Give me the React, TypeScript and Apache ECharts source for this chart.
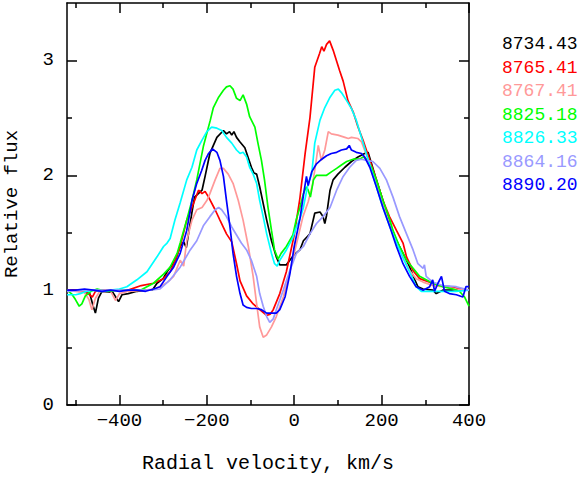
import { useEffect, useRef } from "react";
import * as echarts from "echarts";

const velocityTicks = [-400, -200, 0, 200, 400];
const velocityMinorTicks = [-500, -300, -100, 100, 300];
const fluxTicks = [0, 1, 2, 3];
const fluxMinorTicks = [0.5, 1.5, 2.5];

const seriesNames = ["8734.43", "8765.41", "8767.41", "8825.18", "8826.33", "8864.16", "8890.20"];
const seriesColors = ["#000000", "#ff0000", "#ff9999", "#00ff00", "#00ffff", "#9999ff", "#0000ff"];

const flux8734 = [[-520,1.0],[-490,0.99],[-468,0.97],[-460,0.86],[-455,0.80],[-448,0.93],[-440,0.99],[-415,0.98],[-402,0.90],[-394,0.96],[-380,0.97],[-360,0.99],[-340,1.0],[-325,1.0],[-314,1.06],[-300,1.10],[-291,1.16],[-272,1.26],[-261,1.38],[-253,1.42],[-247,1.37],[-242,1.49],[-234,1.68],[-228,1.81],[-211,1.87],[-204,1.99],[-193,2.19],[-177,2.33],[-162,2.39],[-155,2.36],[-148,2.38],[-143,2.35],[-138,2.38],[-132,2.33],[-124,2.29],[-113,2.24],[-98,2.07],[-92,2.02],[-86,2.01],[-79,1.90],[-63,1.61],[-52,1.43],[-41,1.29],[-33,1.22],[-18,1.22],[-10,1.26],[0,1.31],[13,1.35],[21,1.43],[36,1.49],[47,1.67],[59,1.68],[66,1.64],[70,1.58],[74,1.65],[82,1.87],[89,1.96],[100,2.01],[116,2.07],[131,2.12],[146,2.16],[161,2.19],[169,2.20],[177,2.10],[188,1.96],[203,1.78],[218,1.59],[234,1.43],[249,1.32],[264,1.20],[276,1.09],[283,1.03],[295,1.01],[317,1.0],[325,0.97],[340,1.0],[360,1.0],[380,1.01],[400,1.0]];

const flux8765 = [[-520,1.0],[-500,1.0],[-480,0.99],[-468,0.96],[-462,0.94],[-455,0.99],[-440,1.0],[-400,1.0],[-380,1.0],[-350,1.04],[-322,1.06],[-299,1.10],[-284,1.16],[-272,1.26],[-261,1.38],[-246,1.61],[-234,1.72],[-219,1.87],[-211,1.84],[-204,1.86],[-196,1.81],[-181,1.70],[-170,1.61],[-155,1.49],[-143,1.42],[-132,1.23],[-124,1.08],[-109,0.95],[-94,0.88],[-79,0.83],[-63,0.78],[-55,0.79],[-48,0.83],[-33,0.97],[-18,1.16],[0,1.48],[13,1.80],[25,2.19],[36,2.50],[47,2.94],[58,3.06],[63,3.12],[68,3.08],[74,3.14],[81,3.17],[89,3.09],[104,2.91],[112,2.82],[123,2.65],[135,2.55],[146,2.42],[158,2.30],[173,2.13],[188,1.96],[203,1.78],[218,1.64],[234,1.52],[249,1.41],[257,1.29],[272,1.17],[287,1.10],[310,1.07],[332,1.04],[355,1.03],[378,1.01],[400,1.0]];

const flux8767 = [[-520,1.0],[-500,0.99],[-480,0.98],[-470,0.92],[-463,0.83],[-455,0.93],[-445,0.99],[-420,0.99],[-409,0.91],[-400,0.97],[-380,0.99],[-340,1.0],[-320,1.01],[-307,1.03],[-290,1.07],[-276,1.12],[-261,1.26],[-253,1.21],[-246,1.43],[-234,1.61],[-223,1.70],[-211,1.72],[-200,1.78],[-193,1.84],[-181,1.96],[-170,2.06],[-162,2.06],[-151,2.01],[-140,1.93],[-128,1.78],[-117,1.61],[-105,1.38],[-94,1.12],[-86,0.88],[-79,0.68],[-71,0.59],[-63,0.61],[-52,0.68],[-41,0.77],[-25,0.94],[-10,1.16],[5,1.40],[20,1.64],[32,1.77],[42,1.92],[50,2.12],[55,2.26],[62,2.13],[70,2.22],[78,2.38],[85,2.36],[100,2.35],[116,2.33],[124,2.32],[131,2.33],[146,2.32],[154,2.29],[161,2.22],[173,2.10],[188,1.93],[203,1.75],[218,1.58],[234,1.43],[249,1.29],[264,1.17],[279,1.10],[295,1.07],[317,1.04],[340,1.03],[371,1.01],[400,1.0]];

const flux8825 = [[-520,1.0],[-510,0.97],[-501,0.92],[-492,0.86],[-486,0.88],[-478,0.95],[-465,0.99],[-451,1.01],[-430,0.99],[-400,1.0],[-380,1.0],[-352,1.0],[-322,1.06],[-299,1.14],[-284,1.20],[-268,1.32],[-261,1.41],[-246,1.61],[-234,1.78],[-223,1.96],[-208,2.25],[-192,2.48],[-185,2.59],[-173,2.68],[-162,2.74],[-155,2.77],[-147,2.78],[-140,2.75],[-132,2.67],[-124,2.65],[-117,2.70],[-109,2.62],[-102,2.51],[-90,2.42],[-83,2.28],[-75,2.13],[-68,1.96],[-60,1.72],[-52,1.52],[-45,1.35],[-37,1.27],[-30,1.32],[-18,1.38],[-3,1.48],[5,1.62],[13,1.72],[21,1.84],[28,1.90],[32,1.87],[37,1.81],[44,1.96],[51,2.0],[63,2.0],[74,2.0],[85,2.03],[97,2.06],[108,2.09],[120,2.12],[135,2.14],[150,2.14],[158,2.16],[165,2.14],[177,2.07],[188,1.96],[203,1.78],[219,1.61],[226,1.52],[241,1.38],[257,1.26],[272,1.19],[287,1.12],[302,1.09],[317,1.06],[340,1.03],[363,1.01],[378,0.99],[390,0.94],[400,0.86]];

const flux8826 = [[-520,0.96],[-500,0.96],[-490,0.97],[-475,0.99],[-460,1.0],[-440,0.99],[-420,1.0],[-400,1.01],[-383,1.03],[-360,1.09],[-337,1.16],[-314,1.29],[-299,1.38],[-291,1.41],[-284,1.45],[-273,1.61],[-261,1.76],[-246,1.96],[-234,2.07],[-223,2.22],[-212,2.30],[-200,2.38],[-189,2.42],[-177,2.41],[-166,2.39],[-155,2.33],[-143,2.28],[-132,2.22],[-124,2.19],[-117,2.20],[-109,2.16],[-102,2.07],[-94,2.01],[-86,1.93],[-79,1.78],[-71,1.64],[-63,1.49],[-52,1.32],[-45,1.23],[-39,1.21],[-33,1.26],[-18,1.35],[-3,1.46],[5,1.55],[13,1.62],[21,1.72],[32,1.93],[40,2.01],[47,2.28],[59,2.48],[70,2.59],[82,2.68],[93,2.74],[101,2.75],[108,2.72],[120,2.65],[131,2.58],[142,2.48],[154,2.33],[165,2.19],[177,2.04],[188,1.90],[203,1.72],[219,1.55],[234,1.41],[249,1.28],[264,1.16],[279,1.03],[291,0.99],[310,0.99],[340,0.99],[371,0.99],[400,1.0]];

const flux8864 = [[-520,0.99],[-480,1.0],[-440,1.0],[-400,1.0],[-360,1.0],[-330,1.0],[-307,1.01],[-284,1.09],[-261,1.20],[-238,1.35],[-223,1.43],[-208,1.56],[-193,1.64],[-181,1.70],[-173,1.72],[-166,1.70],[-155,1.64],[-143,1.55],[-132,1.48],[-121,1.41],[-109,1.35],[-98,1.26],[-86,1.12],[-79,0.97],[-71,0.86],[-63,0.77],[-56,0.72],[-48,0.75],[-41,0.83],[-25,1.0],[-10,1.17],[5,1.32],[21,1.38],[36,1.49],[51,1.58],[66,1.64],[82,1.72],[97,1.87],[112,1.99],[127,2.07],[142,2.13],[154,2.14],[165,2.13],[180,2.12],[196,2.06],[211,1.96],[226,1.81],[241,1.64],[257,1.49],[272,1.35],[283,1.23],[295,1.19],[298,1.22],[302,1.12],[317,1.07],[340,1.04],[371,1.03],[400,1.0]];

const flux8890 = [[-520,1.0],[-500,1.0],[-480,1.01],[-460,1.0],[-440,0.99],[-420,1.0],[-400,0.99],[-380,1.0],[-360,1.0],[-340,0.99],[-322,1.01],[-307,1.03],[-291,1.12],[-276,1.20],[-261,1.32],[-246,1.52],[-234,1.78],[-223,1.93],[-212,2.04],[-204,2.13],[-196,2.19],[-187,2.23],[-177,2.20],[-170,2.13],[-162,1.99],[-155,1.78],[-147,1.55],[-140,1.32],[-132,1.12],[-124,0.97],[-117,0.87],[-109,0.85],[-98,0.84],[-86,0.84],[-75,0.83],[-63,0.80],[-52,0.80],[-41,0.80],[-33,0.83],[-21,0.94],[-10,1.14],[0,1.38],[13,1.62],[22,1.85],[28,1.99],[32,1.91],[40,2.03],[51,2.10],[63,2.14],[74,2.17],[85,2.19],[97,2.20],[108,2.22],[120,2.23],[126,2.26],[131,2.22],[142,2.20],[154,2.19],[161,2.16],[173,2.07],[188,1.90],[203,1.72],[219,1.55],[234,1.38],[249,1.23],[264,1.12],[279,1.03],[295,1.0],[310,1.03],[317,1.09],[321,0.99],[329,1.06],[337,1.12],[344,0.99],[355,0.97],[371,0.96],[386,0.94],[393,1.03],[400,1.03]];

const seriesData = [flux8734, flux8765, flux8767, flux8825, flux8826, flux8864, flux8890];

const FONT = '"Liberation Mono", "DejaVu Sans Mono", monospace';

function fmtVel(v: number) {
  return v < 0 ? "\u2212" + Math.abs(v) : String(v);
}

export default function App() {
  const ref = useRef<HTMLDivElement>(null);
  useEffect(() => {
    if (!ref.current) return;
    const chart = echarts.init(ref.current, undefined, { renderer: "svg" });
    const line = { color: "#000", width: 1.5 };
    const xBase = { type: "value", min: -520, max: 400, splitLine: { show: false } };
    const yBase = { type: "value", min: 0, max: 3.5, splitLine: { show: false } };
    const option: any = {
      animation: false,
      backgroundColor: "#ffffff",
      grid: { left: 67, right: 112, top: 3, bottom: 75, containLabel: false, outerBoundsMode: "none" },
      legend: {
        orient: "vertical",
        left: 497,
        top: 35,
        padding: 0,
        icon: "none",
        itemWidth: 0,
        itemHeight: 18,
        itemGap: 5.5,
        selectedMode: false,
        textStyle: { fontFamily: FONT, fontSize: 18 },
        data: seriesNames.map((n, i) => ({ name: n, textStyle: { color: seriesColors[i] } })),
      },
      xAxis: [
        {
          ...xBase,
          position: "bottom",
          name: "Radial velocity, km/s",
          nameLocation: "middle",
          nameGap: 48,
          nameTextStyle: { fontFamily: FONT, fontSize: 20, color: "#000" },
          axisLine: { show: true, onZero: false, lineStyle: line },
          axisTick: { show: true, inside: true, length: 10, lineStyle: line, customValues: velocityTicks },
          axisLabel: { show: true, margin: 6, fontFamily: FONT, fontSize: 19, color: "#000", customValues: velocityTicks, formatter: fmtVel },
        },
        {
          ...xBase,
          position: "bottom",
          axisLine: { show: false, onZero: false },
          axisTick: { show: true, inside: true, length: 5, lineStyle: line, customValues: velocityMinorTicks },
          axisLabel: { show: false },
        },
        {
          ...xBase,
          position: "top",
          axisLine: { show: true, onZero: false, lineStyle: line },
          axisTick: { show: true, inside: true, length: 10, lineStyle: line, customValues: velocityTicks },
          axisLabel: { show: false },
        },
        {
          ...xBase,
          position: "top",
          axisLine: { show: false, onZero: false },
          axisTick: { show: true, inside: true, length: 5, lineStyle: line, customValues: velocityMinorTicks },
          axisLabel: { show: false },
        },
      ],
      yAxis: [
        {
          ...yBase,
          position: "left",
          name: "Relative flux",
          nameLocation: "middle",
          nameGap: 46,
          nameTextStyle: { fontFamily: FONT, fontSize: 19, color: "#000" },
          axisLine: { show: true, onZero: false, lineStyle: line },
          axisTick: { show: true, inside: true, length: 10, lineStyle: line, customValues: fluxTicks },
          axisLabel: { show: true, margin: 13, fontFamily: FONT, fontSize: 19, color: "#000", customValues: fluxTicks },
        },
        {
          ...yBase,
          position: "left",
          axisLine: { show: false, onZero: false },
          axisTick: { show: true, inside: true, length: 5, lineStyle: line, customValues: fluxMinorTicks },
          axisLabel: { show: false },
        },
        {
          ...yBase,
          position: "right",
          axisLine: { show: true, onZero: false, lineStyle: line },
          axisTick: { show: true, inside: true, length: 10, lineStyle: line, customValues: fluxTicks },
          axisLabel: { show: false },
        },
        {
          ...yBase,
          position: "right",
          axisLine: { show: false, onZero: false },
          axisTick: { show: true, inside: true, length: 5, lineStyle: line, customValues: fluxMinorTicks },
          axisLabel: { show: false },
        },
      ],
      series: seriesNames.map((n, i) => ({
        name: n,
        type: "line",
        xAxisIndex: 0,
        yAxisIndex: 0,
        data: seriesData[i],
        showSymbol: false,
        symbol: "none",
        color: seriesColors[i],
        lineStyle: { color: seriesColors[i], width: 1.7 },
        emphasis: { disabled: true },
      })),
    };
    chart.setOption(option);
    return () => chart.dispose();
  }, []);
  return (
    <div
      ref={ref}
      style={{ position: "fixed", left: 0, top: 0, width: 581, height: 480, background: "#fff" }}
    />
  );
}
